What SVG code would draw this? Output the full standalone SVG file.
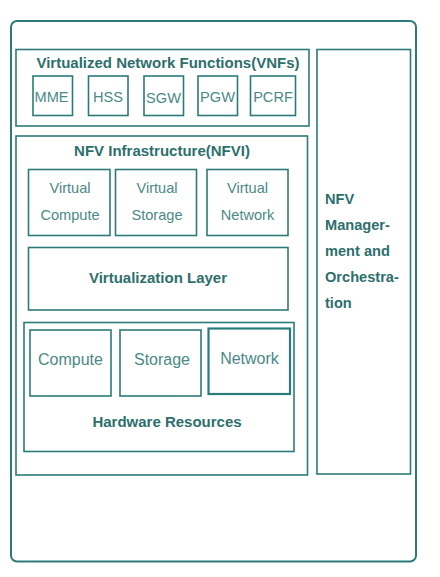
<svg xmlns="http://www.w3.org/2000/svg" width="440" height="577" viewBox="0 0 440 577">
<style>
.box{fill:none;stroke:#2b7c79;stroke-width:1.6}
.outer{fill:#fff;stroke:#2b7c79;stroke-width:2}
.t{font-family:"Liberation Sans",Arial,sans-serif;font-size:14.6px;fill:#4a8987;text-anchor:middle}
.h{font-size:16px}
.b{font-family:"Liberation Sans",Arial,sans-serif;font-size:15px;font-weight:bold;fill:#2d6f6d;text-anchor:middle}
.bl{font-family:"Liberation Sans",Arial,sans-serif;font-size:14.6px;font-weight:bold;fill:#2d6f6d}
</style>
<rect width="440" height="577" fill="#fff"/>
<g id="system"><rect class="outer" x="11" y="21" width="405" height="540.5" rx="6"/></g>
<g id="vnfs">
<rect class="box" x="16" y="49.5" width="293" height="76.5"/>
<text class="b" x="168" y="68">Virtualized Network Functions(VNFs)</text>
</g>
<g id="mme"><rect class="box" x="33" y="76" width="39.5" height="39.5"/><text class="t" x="51.5" y="102">MME</text></g>
<g id="hss"><rect class="box" x="88.5" y="76" width="39.5" height="39.5"/><text class="t" x="108" y="102">HSS</text></g>
<g id="sgw"><rect class="box" x="144" y="76" width="39.5" height="39.5"/><text class="t" x="163.5" y="102.5">SGW</text></g>
<g id="pgw"><rect class="box" x="198" y="76" width="39.5" height="39.5"/><text class="t" x="217.5" y="102">PGW</text></g>
<g id="pcrf"><rect class="box" x="250.5" y="76" width="45" height="39.5"/><text class="t" x="273" y="102">PCRF</text></g>
<g id="mano">
<rect class="box" x="317" y="49.5" width="93.5" height="424.5"/>
<text class="bl" x="325" y="203.5">NFV</text>
<text class="bl" x="325" y="229.5">Manager-</text>
<text class="bl" x="325" y="255.5">ment and</text>
<text class="bl" x="325" y="281.5">Orchestra-</text>
<text class="bl" x="325" y="307.5">tion</text>
</g>
<g id="nfvi">
<rect class="box" x="16" y="136" width="291.5" height="339"/>
<text class="b" x="162" y="155.5">NFV Infrastructure(NFVI)</text>
</g>
<g id="vcompute"><rect class="box" x="28.5" y="169.5" width="81.5" height="66"/><text class="t" x="70" y="193">Virtual</text><text class="t" x="70" y="219.5">Compute</text></g>
<g id="vstorage"><rect class="box" x="115.5" y="169.5" width="81" height="66"/><text class="t" x="157" y="193">Virtual</text><text class="t" x="157" y="219.5">Storage</text></g>
<g id="vnetwork"><rect class="box" x="207" y="169.5" width="81" height="66"/><text class="t" x="247.5" y="193">Virtual</text><text class="t" x="247.5" y="219.5">Network</text></g>
<g id="vlayer"><rect class="box" x="28.5" y="247.5" width="259.5" height="62.5"/><text class="b" x="158" y="282.5">Virtualization Layer</text></g>
<g id="hardware">
<rect class="box" x="24" y="322.5" width="270" height="129"/>
<text class="b" x="167" y="427">Hardware Resources</text>
</g>
<g id="compute"><rect class="box" x="30" y="330" width="81" height="66"/><text class="t h" x="70.5" y="365">Compute</text></g>
<g id="storage"><rect class="box" x="120" y="330" width="81" height="66"/><text class="t h" x="162" y="365">Storage</text></g>
<g id="network"><rect class="box" x="208.5" y="328.5" width="81.5" height="65.5" style="stroke-width:2.2"/><text class="t h" x="249.5" y="364">Network</text></g>
<g id="connectors"></g>
</svg>
